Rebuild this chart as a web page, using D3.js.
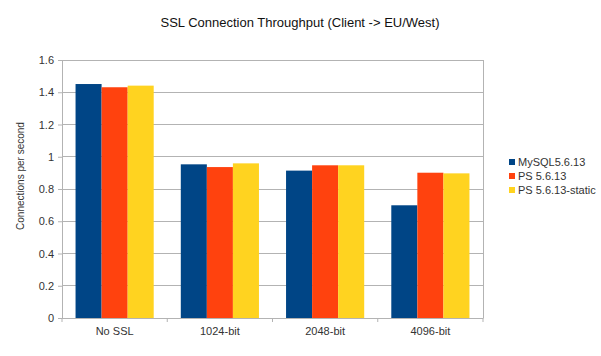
<!DOCTYPE html>
<html><head><meta charset="utf-8">
<script src="https://cdn.jsdelivr.net/npm/d3@7"></script>
<style>body{margin:0;background:#fff}svg{display:block;font-family:"Liberation Sans",Arial,sans-serif}</style>
</head><body><svg id="c" width="601" height="356"></svg>
<script>
const categories = ["No SSL","1024-bit","2048-bit","4096-bit"];
const seriesNames = ["MySQL5.6.13","PS 5.6.13","PS 5.6.13-static"];
const mysql = [1.451, 0.953, 0.914, 0.699];
const ps = [1.431, 0.936, 0.947, 0.901];
const psStatic = [1.441, 0.959, 0.947, 0.897];
const yTicks = [0,0.2,0.4,0.6,0.8,1,1.2,1.4,1.6];
const colors = ["#004586","#ff420e","#ffd320"];
const series = [mysql, ps, psStatic];

const svg = d3.select("#c");
const L=62, R=483, T=60, B=318;
const x = d3.scaleBand().domain(categories).range([L,R]);
const xi = d3.scaleBand().domain(d3.range(3)).range([0,x.bandwidth()]).paddingOuter(0.52).paddingInner(0);
const y = d3.scaleLinear().domain([0,1.6]).range([B,T]);

// gridlines
svg.append("g").selectAll("line").data(yTicks).join("line")
  .attr("x1",L).attr("x2",R).attr("y1",d=>y(d)).attr("y2",d=>y(d))
  .attr("stroke","#b3b3b3").attr("stroke-width",1).attr("shape-rendering","crispEdges");
svg.append("line").attr("x1",R).attr("x2",R).attr("y1",T).attr("y2",B)
  .attr("stroke","#b3b3b3").attr("shape-rendering","crispEdges");

// bars
categories.forEach((c,ci)=>{
  series.forEach((s,si)=>{
    svg.append("rect").attr("x",x(c)+xi(si)).attr("width",xi.bandwidth())
      .attr("y",y(s[ci])).attr("height",B-y(s[ci])).attr("fill",colors[si]);
  });
});

// y axis
const ya = d3.axisLeft(y).tickValues(yTicks).tickSize(4).tickPadding(4).tickFormat(d3.format("~g"));
const gy = svg.append("g").attr("transform",`translate(${L},0)`).call(ya);
gy.select(".domain").attr("stroke","#b3b3b3");
gy.selectAll(".tick line").attr("stroke","#b3b3b3");
gy.selectAll("text").attr("font-size",11).attr("fill","#333").attr("font-family","Liberation Sans, Arial, sans-serif");

// x axis
const xa = d3.axisBottom(x).tickSize(0).tickPadding(9);
const gx = svg.append("g").attr("transform",`translate(0,${B})`).call(xa);
gx.select(".domain").attr("stroke","#b3b3b3");
gx.selectAll("text").attr("font-size",11).attr("fill","#333").attr("font-family","Liberation Sans, Arial, sans-serif");
gx.append("g").selectAll("line").data(d3.range(5)).join("line")
  .attr("x1",i=>L+i*x.bandwidth()).attr("x2",i=>L+i*x.bandwidth())
  .attr("y1",0).attr("y2",4).attr("stroke","#b3b3b3");

// title
svg.append("text").attr("x",300).attr("y",27).attr("text-anchor","middle")
  .attr("font-size",13).attr("fill","#111").text("SSL Connection Throughput (Client -> EU/West)");

// y label
svg.append("text").attr("transform","translate(24,176) rotate(-90)").attr("text-anchor","middle")
  .attr("font-size",10).attr("fill","#333").text("Connections per second");

// legend
const lg = svg.append("g");
seriesNames.forEach((n,i)=>{
  const yy = 162 + i*14;
  lg.append("rect").attr("x",509).attr("y",yy-3).attr("width",6).attr("height",6).attr("fill",colors[i]);
  lg.append("text").attr("x",518).attr("y",yy+4).attr("font-size",11).attr("fill","#333").text(n);
});
</script></body></html>
